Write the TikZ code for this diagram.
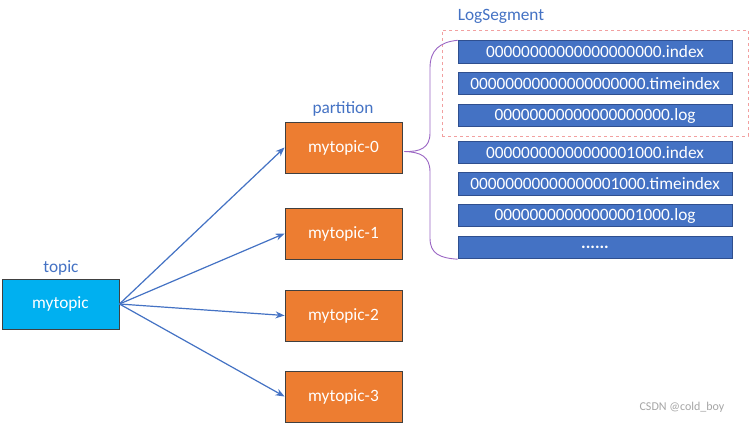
\documentclass[tikz,border=0pt]{standalone}
\usepackage{fontspec}
\setmainfont{Carlito}
\usetikzlibrary{arrows.meta}
\definecolor{topicblue}{HTML}{00B0F0}
\definecolor{partorange}{HTML}{ED7D31}
\definecolor{fileblue}{HTML}{4472C4}
\definecolor{fileborder}{HTML}{2F4F8F}
\definecolor{labelblue}{HTML}{4472C4}
\definecolor{bracepurple}{HTML}{9B66C4}
\definecolor{dashred}{HTML}{F2A0A0}
\definecolor{darkedge}{HTML}{404040}
\tikzset{
  base/.style={font=\fontsize{17.3}{20}\selectfont, text=white, inner sep=0pt},
  topicbox/.style={base, fill=topicblue, draw=darkedge, line width=0.9pt, minimum width=117pt, minimum height=50pt},
  partbox/.style={base, fill=partorange, draw=darkedge, line width=0.9pt, minimum width=117pt, minimum height=51pt},
  filebox/.style={base, fill=fileblue, draw=fileborder, line width=0.9pt, minimum width=274pt, minimum height=22.5pt},
  lbl/.style={font=\fontsize{17.3}{20}\selectfont, text=labelblue, inner sep=0pt},
  conn/.style={draw=fileblue, line width=1.2pt, -{Stealth[length=9pt,width=7pt]}},
  bracepath/.style={draw=bracepurple, line width=0.9pt},
}
\begin{document}
\begin{tikzpicture}[x=1pt,y=-1pt]
\useasboundingbox[fill=white] (0,0) rectangle (750,423);

% topic
\node[topicbox] (topic) at (60.5,304) {mytopic};
\node[lbl] (topiclbl) at (61,268) {topic};

% partitions
\node[partbox] (p0) at (343.5,147.5) {mytopic-0};
\node[partbox] (p1) at (343.5,233.5) {mytopic-1};
\node[partbox] (p2) at (343.5,315.5) {mytopic-2};
\node[partbox] (p3) at (343.5,396.5) {mytopic-3};
\node[lbl] (partlbl) at (343,109) {partition};

\draw[conn] (topic.east) -- (p0.west);
\draw[conn] (topic.east) -- (p1.west);
\draw[conn] (topic.east) -- (p2.west);
\draw[conn] (topic.east) -- (p3.west);

% log segment dashed box
\node[draw=dashred, dashed, line width=0.8pt, minimum width=306pt, minimum height=106pt, inner sep=0pt] (seg) at (595,83) {};
\node[lbl] (seglbl) at (501,16) {LogSegment};

% files
\node[filebox] (f1) at (595,52) {00000000000000000000.index};
\node[filebox] (f2) at (595,83.5) {00000000000000000000.timeindex};
\node[filebox] (f3) at (595,115.5) {00000000000000000000.log};
\node[filebox] (f4) at (595,152.5) {00000000000000001000.index};
\node[filebox] (f5) at (595,184) {00000000000000001000.timeindex};
\node[filebox] (f6) at (595,215.5) {00000000000000001000.log};
\node[filebox] (f7) at (595,247.5) {\textbf{......}};

% brace
\coordinate (tip) at ([shift={(2pt,-4pt)}]p0.east);
\draw[bracepath] (f1.north west) .. controls (440,42) and (430,50) .. (430,68)
  -- (430,133) .. controls (430,148) and (420,152) .. (tip);
\draw[bracepath] (tip) .. controls (420,152) and (430,156) .. (430,172)
  -- (430,238) .. controls (430,254) and (440,258) .. (f7.south west);

% watermark
\node[font=\fontsize{12}{14}\selectfont, text=black!35, inner sep=0pt] (wm) at (682,407) {CSDN @cold\_boy};
\end{tikzpicture}
\end{document}
